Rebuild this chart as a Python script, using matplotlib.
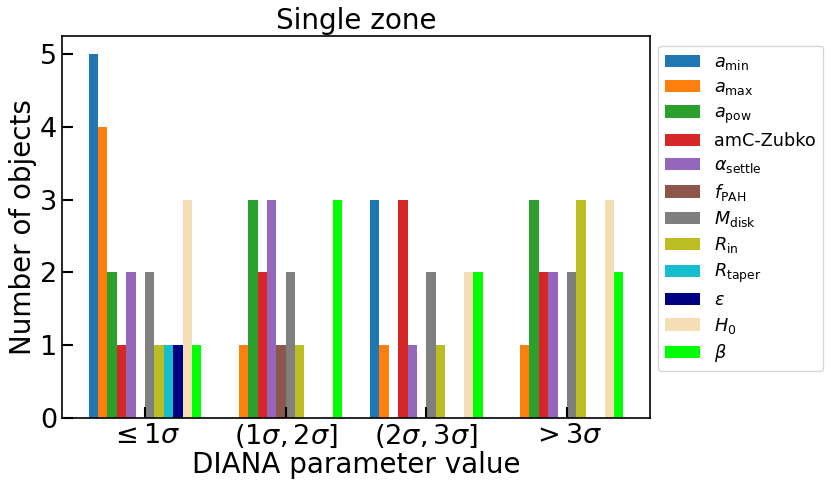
import numpy as np
import matplotlib
matplotlib.use("Agg")
import matplotlib.pyplot as plt

groups = [r"$\leq 1\sigma$", r"$(1\sigma, 2\sigma]$", r"$(2\sigma, 3\sigma]$", r"$> 3\sigma$"]
labels = [r"$a_{\rm min}$", r"$a_{\rm max}$", r"$a_{\rm pow}$", "amC-Zubko",
          r"$\alpha_{\rm settle}$", r"$f_{\rm PAH}$", r"$M_{\rm disk}$", r"$R_{\rm in}$",
          r"$R_{\rm taper}$", r"$\epsilon$", r"$H_0$", r"$\beta$"]
colors = ["tab:blue", "tab:orange", "tab:green", "tab:red", "tab:purple", "tab:brown",
          "tab:gray", "tab:olive", "tab:cyan", "navy", "wheat", "lime"]

a_min = [5, 0, 3, 0]
a_max = [4, 1, 1, 1]
a_pow = [2, 3, 0, 3]
amc_zubko = [1, 2, 3, 2]
alpha_settle = [2, 3, 1, 2]
f_pah = [0, 1, 0, 0]
m_disk = [2, 2, 2, 2]
r_in = [1, 1, 1, 3]
r_taper = [1, 0, 0, 0]
epsilon = [1, 0, 0, 0]
h0 = [3, 0, 2, 3]
beta = [1, 3, 2, 2]

series = [a_min, a_max, a_pow, amc_zubko, alpha_settle, f_pah, m_disk, r_in,
          r_taper, epsilon, h0, beta]

fig = plt.figure(figsize=(8.31, 4.9), dpi=100)
ax = fig.add_axes([62/831, 1 - 417.7/490, (650-62)/831, (417.7-36)/490])

x = np.arange(len(groups))
n = len(series)
w = 0.8 / n
for i, (vals, lab, col) in enumerate(zip(series, labels, colors)):
    ax.bar(x - 0.4 + w * (i + 0.5), vals, width=w, color=col, label=lab)

ax.set_xticks(x)
ax.set_xticklabels(groups)
ax.tick_params(axis='both', direction='in', length=8, width=1.5, labelsize=19.5)
ax.set_yticks([0, 1, 2, 3, 4, 5])
ax.set_xlabel("DIANA parameter value", fontsize=20, labelpad=1)
ax.set_ylabel("Number of objects", fontsize=20, labelpad=2)
ax.set_title("Single zone", fontsize=20, pad=5)
for s in ax.spines.values():
    s.set_linewidth(1.2)

ax.legend(loc='upper left', bbox_to_anchor=(1.0136, 0.974), fontsize=12.7,
          labelspacing=0.36, borderaxespad=0)

fig.savefig("out.png", dpi=100)
